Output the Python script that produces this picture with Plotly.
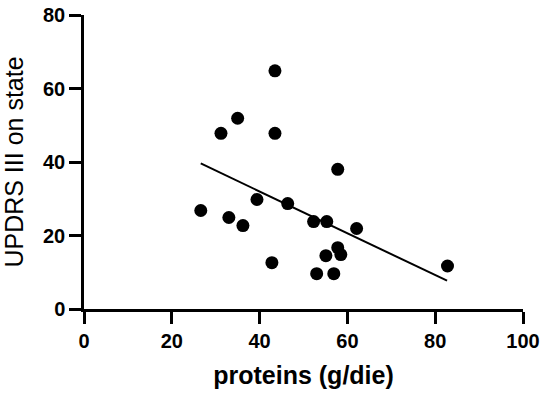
import plotly.graph_objects as go

proteins = [26.6, 31.2, 35.0, 33.0, 36.2, 39.4, 43.5, 43.5, 42.8, 46.4,
            52.3, 55.3, 53.0, 55.1, 57.8, 57.8, 58.5, 56.9, 62.1, 82.8]
updrs = [26.8, 47.8, 51.9, 24.9, 22.7, 29.8, 64.8, 47.8, 12.6, 28.7,
         23.8, 23.8, 9.6, 14.5, 38.0, 16.7, 14.8, 9.6, 21.9, 11.7]

fit_x = [26.6, 82.7]
fit_y = [39.6, 7.7]

x_ticks = [0, 20, 40, 60, 80, 100]
y_ticks = [0, 20, 40, 60, 80]

FONT = "Liberation Sans, Arial, Helvetica"

fig = go.Figure()
fig.add_trace(go.Scatter(x=fit_x, y=fit_y, mode="lines",
                         line=dict(color="black", width=2), showlegend=False))
fig.add_trace(go.Scatter(x=proteins, y=updrs, mode="markers",
                         marker=dict(color="black", size=13), showlegend=False))

axis_common = dict(showgrid=False, zeroline=False, showline=True, linecolor="black",
                   linewidth=2.5, ticks="outside", ticklen=12, tickwidth=2.5, tickcolor="black",
                   automargin=False,
                   tickfont=dict(family=FONT, size=20, color="black", weight="bold"))

fig.update_layout(
    width=550, height=396,
    margin=dict(l=84, r=27, t=15, b=87),
    plot_bgcolor="white", paper_bgcolor="white",
    xaxis=dict(range=[0, 100], tickvals=x_ticks,
               title=dict(text="proteins (g/die)",
                          font=dict(family=FONT, size=25, color="black", weight="bold"),
                          standoff=16),
               **axis_common),
    yaxis=dict(range=[0, 80], tickvals=y_ticks,
               title=dict(text="UPDRS III on state",
                          font=dict(family=FONT, size=25, color="black"),
                          standoff=20),
               **axis_common),
)
fig.write_html("out.html",
               config={"displayModeBar": False},
               post_script="document.body.style.margin='0px';document.body.style.overflow='hidden';")
